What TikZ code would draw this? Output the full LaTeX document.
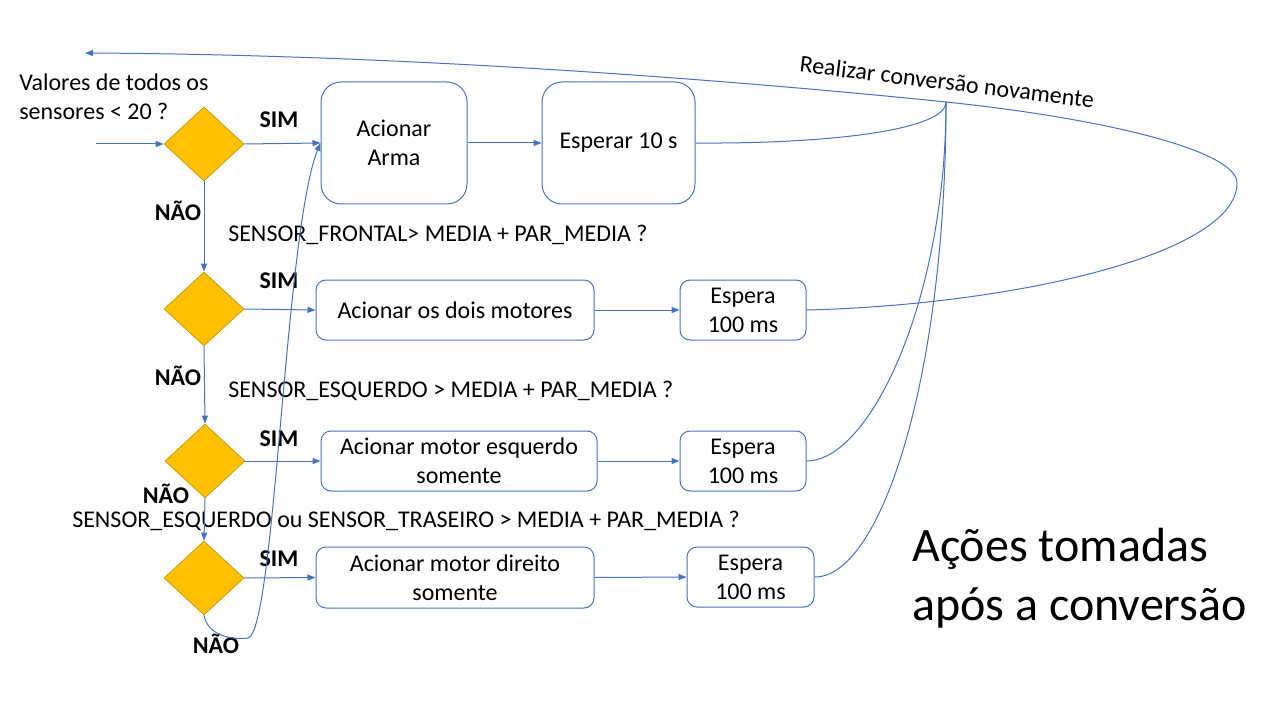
\documentclass[tikz,border=0pt]{standalone}
\usepackage{fontspec}
\setmainfont{Carlito}
\usetikzlibrary{shapes.geometric,arrows.meta}

\definecolor{azul}{HTML}{4472C4}
\definecolor{amarelo}{HTML}{FFC000}
\definecolor{borda}{HTML}{C49300}

\begin{document}
\begin{tikzpicture}[x=0.75pt,y=-0.75pt,
    seta/.style={draw=azul,line width=0.75pt,-{Triangle[length=6pt,width=4.5pt]}},
    linha/.style={draw=azul,line width=0.75pt},
    decisao/.style={diamond,fill=amarelo,draw=borda,line width=0.5pt,minimum width=60pt,minimum height=55.5pt,inner sep=0pt},
    caixa/.style={draw=azul,line width=0.75pt,rounded corners=7.5pt,align=center,inner sep=0pt,font=\fontsize{18}{21.6}\selectfont},
    texto/.style={inner sep=0pt,font=\fontsize{18}{21.6}\selectfont},
    rotulo/.style={inner sep=0pt,font=\fontsize{18}{21.6}\selectfont\bfseries}]
    \useasboundingbox(0,0)rectangle(1280,720);

    \node[decisao](d1)at(204,144){};
    \node[decisao](d2)at(204,309){};
    \node[decisao](d3)at(205,461){};
    \node[decisao](d4)at(204,578){};

    \node[caixa,rounded corners=15pt,minimum width=109.5pt,minimum height=91.5pt](arma)at(394,143){Acionar\\Arma};
    \node[caixa,rounded corners=15pt,minimum width=114.75pt,minimum height=91.5pt](esp1)at(618.5,143){Esperar 10 s};
    \node[caixa,minimum width=208.5pt,minimum height=45pt](mot2)at(455,310){Acionar os dois motores};
    \node[caixa,minimum width=94.5pt,minimum height=45pt](esp2)at(743,310){Espera\\100 ms};
    \node[caixa,minimum width=207pt,minimum height=45pt](mot3)at(459,461){Acionar motor esquerdo\\somente};
    \node[caixa,minimum width=94.5pt,minimum height=45pt](esp3)at(743,461){Espera\\100 ms};
    \node[caixa,minimum width=208.5pt,minimum height=45.75pt](mot4)at(455,577.5){Acionar motor direito\\somente};
    \node[caixa,minimum width=95.25pt,minimum height=45pt](esp4)at(750.5,577){Espera\\100 ms};

    \node[texto,align=left,anchor=west](pergunta)at(19,97){Valores de todos os\\sensores < 20 ?};
    \node[texto,anchor=base west](cond1)at(228,242){SENSOR\_FRONTAL> MEDIA + PAR\_MEDIA ?};
    \node[texto,anchor=base west](cond2)at(228,397){SENSOR\_ESQUERDO > MEDIA + PAR\_MEDIA ?};
    \node[texto,anchor=base west](cond3)at(72,527){SENSOR\_ESQUERDO ou SENSOR\_TRASEIRO > MEDIA + PAR\_MEDIA ?};
    \node[texto,rotate=-7,anchor=base](conv)at(946,90){Realizar conversão novamente};
    \node[inner sep=0pt,align=left,anchor=west,font=\fontsize{36}{44}\selectfont](titulo)at(912,578){Ações tomadas\\após a conversão};

    \node[rotulo,anchor=base](sim1)at(279,128){SIM};
    \node[rotulo,anchor=base](sim2)at(279,288){SIM};
    \node[rotulo,anchor=base](sim3)at(279,446){SIM};
    \node[rotulo,anchor=base](sim4)at(279,566){SIM};
    \node[rotulo,anchor=base](nao1)at(178,221){NÃO};
    \node[rotulo,anchor=base](nao2)at(178,385){NÃO};
    \node[rotulo,anchor=base](nao3)at(166,503){NÃO};
    \node[rotulo,anchor=base](nao4)at(216,653){NÃO};

    \coordinate(entrada)at(96,144);
    \coordinate(J)at(946,102);
    \coordinate(volta)at(1237,183);
    \coordinate(inicio)at(85,53);
    \coordinate(fundo)at(248,638);

    \draw[seta](entrada)--(d1.west);
    \draw[seta](d1.east)--(arma.west);
    \draw[seta](arma.east)--(esp1.west);
    \draw[seta](d2.east)--(mot2.west);
    \draw[seta](mot2.east)--(esp2.west);
    \draw[seta](d3.east)--(mot3.west);
    \draw[seta](mot3.east)--(esp3.west);
    \draw[seta](d4.east)--(mot4.west);
    \draw[seta](mot4.east)--(esp4.west);
    \draw[seta](d1.south)--(d2.north);
    \draw[seta](d2.south)--(d3.north);
    \draw[seta](d3.south)--(d4.north);

    \draw[seta](d4.south) .. controls (208,636) and (232,640) .. (fundo) .. controls (275,632) and (285,230) .. (arma.west);
    \draw[linha](esp1.east) .. controls (830,144) and (946,130) .. (J);
    \draw[linha](esp3.east) .. controls (870,461) and (946,300) .. (J);
    \draw[linha](esp4.east) .. controls (880,578) and (946,380) .. (J);
    \draw[seta](esp2.east) .. controls (1010,305) and (1237,255) .. (volta) .. controls (1237,150) and (1100,118) .. (J) .. controls (800,87) and (450,55) .. (inicio);
\end{tikzpicture}
\end{document}
